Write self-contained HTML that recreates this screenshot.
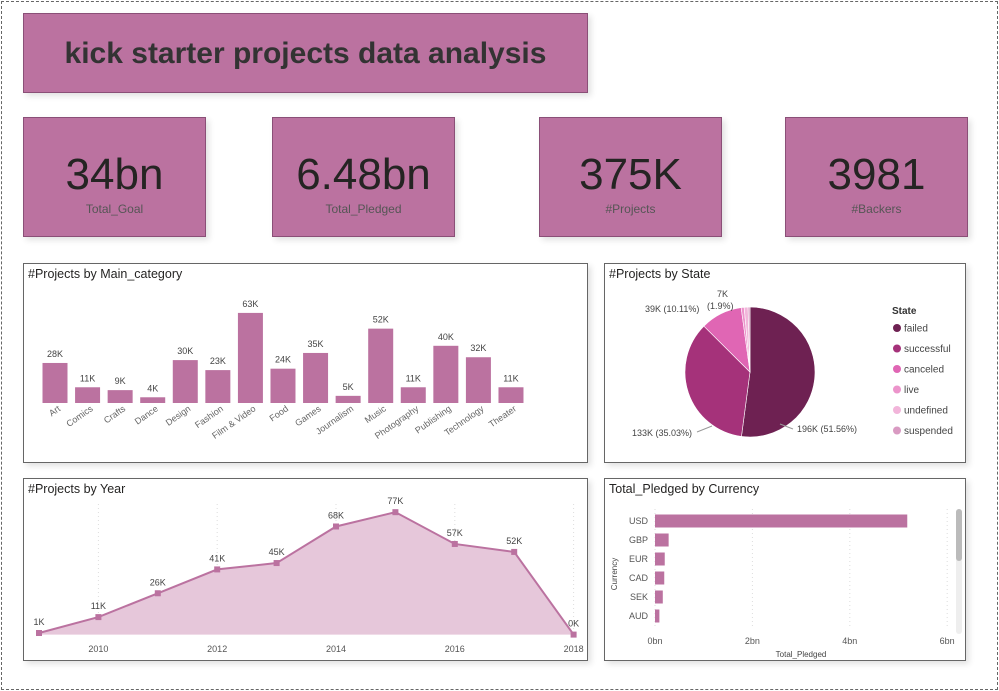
<!DOCTYPE html>
<html><head><meta charset="utf-8">
<style>
body{margin:0;width:999px;height:691px;background:#fff;font-family:"Liberation Sans",sans-serif;overflow:hidden;position:relative}
.frame{position:absolute;left:1px;top:1px;width:995px;height:687px;border:1px dashed #666}
.box{position:absolute;background:#bb72a0;border:1px solid #8a4f77;box-sizing:border-box;box-shadow:3px 3px 6px rgba(0,0,0,0.12)}
.title{left:23px;top:13px;width:565px;height:80px;font-size:30px;font-weight:bold;color:#333;text-align:center;line-height:80px}
.kpi{top:117px;width:183px;height:120px;text-align:center;color:#252423}
.kpi .v{font-size:44px;margin-top:32px;line-height:50px}
.kpi .l{font-size:12px;color:#555;margin-top:2px}
.panel{position:absolute;border:1px solid #666;background:#fff;box-sizing:border-box;box-shadow:3px 3px 6px rgba(0,0,0,0.12)}
.pt{position:absolute;left:4px;top:3px;font-size:12.5px;color:#252423}
svg{position:absolute;left:0;top:0}
svg text{font-family:"Liberation Sans",sans-serif}
</style></head><body>
<div class="frame"></div>
<div class="box title">kick starter projects data analysis</div>
<div class="box kpi" style="left:23px"><div class="v">34bn</div><div class="l">Total_Goal</div></div>
<div class="box kpi" style="left:272px"><div class="v">6.48bn</div><div class="l">Total_Pledged</div></div>
<div class="box kpi" style="left:539px"><div class="v">375K</div><div class="l">#Projects</div></div>
<div class="box kpi" style="left:785px"><div class="v">3981</div><div class="l">#Backers</div></div>

<div class="panel" style="left:23px;top:263px;width:565px;height:200px">
<div class="pt">#Projects by Main_category</div>
<svg id="cat" width="565" height="200"></svg></div>

<div class="panel" style="left:604px;top:263px;width:362px;height:200px">
<div class="pt">#Projects by State</div>
<svg id="pie" width="362" height="200"></svg></div>

<div class="panel" style="left:23px;top:478px;width:565px;height:183px">
<div class="pt">#Projects by Year</div>
<svg id="yr" width="565" height="183"></svg></div>

<div class="panel" style="left:604px;top:478px;width:362px;height:183px">
<div class="pt">Total_Pledged by Currency</div>
<svg id="cur" width="362" height="183"></svg></div>

<script>
const catNames=["Art","Comics","Crafts","Dance","Design","Fashion","Film & Video","Food","Games","Journalism","Music","Photography","Publishing","Technology","Theater"];
const catValues=[28,11,9,4,30,23,63,24,35,5,52,11,40,32,11];
const stateNames=["failed","successful","canceled","live","undefined","suspended"];
const stateValues=[196,133,39,2.8,3.6,1.8];
const stateColors=["#6e2152","#a5327a","#e066b4","#ec94cb","#f2b5da","#d99ac2"];
const years=[2009,2010,2011,2012,2013,2014,2015,2016,2017,2018];
const yearValues=[1,11,26,41,45,68,77,57,52,0];
const yearTicks=[2010,2012,2014,2016,2018];
const curNames=["USD","GBP","EUR","CAD","SEK","AUD"];
const curValues=[5.18,0.28,0.2,0.19,0.16,0.09];
const curTicks=[0,2,4,6];
const NS="http://www.w3.org/2000/svg";
function mk(svg,tag,attrs,txt){const e=document.createElementNS(NS,tag);for(const k in attrs)e.setAttribute(k,attrs[k]);if(txt!==undefined)e.textContent=txt;svg.appendChild(e);return e;}

// category bar chart (panel offset 23,263)
(function(){const s=document.getElementById('cat');
const x=i=>31+i*32.57, y=v=>139-v*1.43;
catNames.forEach((n,i)=>{
 const b=mk(s,'rect',{x:x(i)-12.5,y:y(catValues[i]),width:25,height:catValues[i]*1.43,fill:'#bb72a0'});
 
 
 mk(s,'text',{x:x(i),y:y(catValues[i])-6,'font-size':9,fill:'#444','text-anchor':'middle'},catValues[i]+'K');
 mk(s,'text',{x:x(i)+6,y:146,'font-size':9,fill:'#666','text-anchor':'end',transform:`rotate(-35 ${x(i)+6} 146)`},n);
});})();

// pie
(function(){const s=document.getElementById('pie');
const cx=145,cy=108,r=65;const tot=stateValues.reduce((a,b)=>a+b,0);let a=0;
stateValues.forEach((v,i)=>{const a0=a,a1=a+v/tot*2*Math.PI;a=a1;
 const p=(t)=>[cx+r*Math.sin(t),cy-r*Math.cos(t)];const [x0,y0]=p(a0),[x1,y1]=p(a1);
 const sl=mk(s,'path',{d:`M${cx},${cy}L${x0},${y0}A${r},${r} 0 ${a1-a0>Math.PI?1:0} 1 ${x1},${y1}Z`,fill:stateColors[i],stroke:'#fff','stroke-width':0.6});
 
 
});
const f=s=>s;
mk(s,'text',{x:192,y:168,'font-size':9,fill:'#444'},'196K (51.56%)');
mk(s,'path',{d:'M175,160 L188,165',stroke:'#999',fill:'none'});
mk(s,'text',{x:27,y:172,'font-size':9,fill:'#444'},'133K (35.03%)');
mk(s,'path',{d:'M92,168 L107,162',stroke:'#999',fill:'none'});
mk(s,'text',{x:40,y:48,'font-size':9,fill:'#444'},'39K (10.11%)');
mk(s,'text',{x:112,y:33,'font-size':9,fill:'#444'},'7K');
mk(s,'text',{x:102,y:45,'font-size':9,fill:'#444'},'(1.9%)');
mk(s,'text',{x:287,y:50,'font-size':10,'font-weight':'bold',fill:'#333'},'State');
stateNames.forEach((n,i)=>{const yy=64+i*20.5;
 const g=mk(s,'g',{});
 mk(g,'circle',{cx:292,cy:yy,r:4,fill:stateColors[i]});
 mk(g,'text',{x:299,y:yy+3.5,'font-size':10,fill:'#444'},n);});
})();

// year area chart (panel offset 23,478)
(function(){const s=document.getElementById('yr');
const x=yv=>15+(yv-2009)*59.4, y=v=>155.6-v*1.59;
yearTicks.forEach(t=>{mk(s,'line',{x1:x(t),x2:x(t),y1:25,y2:155,stroke:'#ddd','stroke-dasharray':'1 3'});
 mk(s,'text',{x:x(t),y:173,'font-size':9,fill:'#555','text-anchor':'middle'},t);});
const pts=years.map((yv,i)=>x(yv)+','+y(yearValues[i]));
mk(s,'path',{d:`M${x(years[0])},155.6 L${pts.join(' L')} L${x(years[years.length-1])},155.6Z`,fill:'#e6c7da'});
const ln=mk(s,'polyline',{points:pts.join(' '),fill:'none',stroke:'#bb72a0','stroke-width':2});

years.forEach((yv,i)=>{const px=x(yv),py=y(yearValues[i]);
 const m=mk(s,'rect',{x:px-3,y:py-3,width:6,height:6,fill:'#bb72a0'});
 
 mk(s,'text',{x:px,y:py-8,'font-size':9,fill:'#444','text-anchor':'middle'},yearValues[i]+'K');});
})();

// currency bar chart (panel offset 604,478)
(function(){const s=document.getElementById('cur');
const x=v=>50+v*48.7, y=i=>42+i*19;
curTicks.forEach(t=>{mk(s,'line',{x1:x(t),x2:x(t),y1:30,y2:150,stroke:'#ddd','stroke-dasharray':'1 3'});
 mk(s,'text',{x:x(t),y:165,'font-size':9,fill:'#555','text-anchor':'middle'},t+'bn');});
curNames.forEach((n,i)=>{const b=mk(s,'rect',{x:x(0),y:y(i)-6.5,width:curValues[i]*48.7,height:13,fill:'#bb72a0'});
 
 mk(s,'text',{x:43,y:y(i)+3,'font-size':9,fill:'#555','text-anchor':'end'},n);});
mk(s,'text',{x:196,y:178,'font-size':8,fill:'#444','text-anchor':'middle'},'Total_Pledged');
mk(s,'text',{x:12,y:95,'font-size':8,fill:'#444','text-anchor':'middle',transform:'rotate(-90 12 95)'},'Currency');
mk(s,'rect',{x:351,y:30,width:6,height:125,rx:3,fill:'#eee'});
const sb=mk(s,'rect',{x:351,y:30,width:6,height:52,rx:3,fill:'#bbb'});

})();
</script>
</body></html>
